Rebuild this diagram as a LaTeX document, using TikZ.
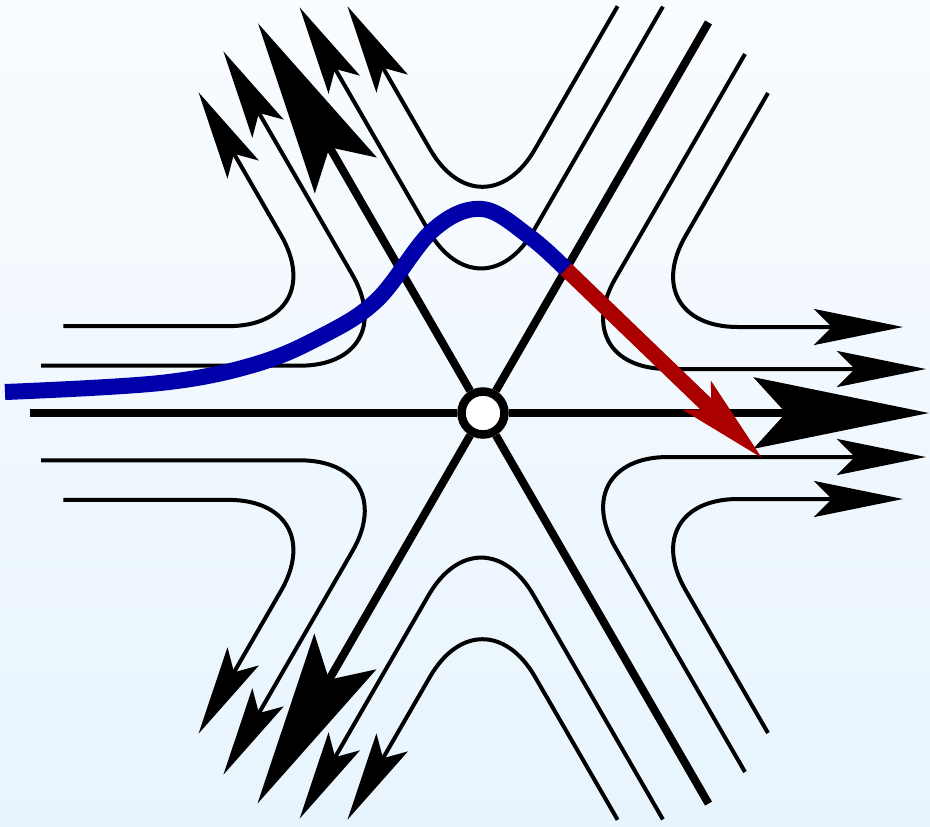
\documentclass[tikz,border=0pt]{standalone}
\usepackage{tikz}
\usetikzlibrary{arrows.meta}

\definecolor{bgtop}{RGB}{249,252,255}
\definecolor{bgbottom}{RGB}{232,244,253}
\definecolor{pathblue}{RGB}{0,0,170}
\definecolor{pathred}{RGB}{170,0,0}

\begin{document}
\begin{tikzpicture}[
    x=0.01cm, y=0.01cm,
    axis/.style={draw, line width=0.08cm},
    outaxis/.style={axis, -{Stealth[length=1.75cm, width=0.71cm, inset=0.32cm]}},
    flow/.style={draw, line width=0.04cm, rounded corners=1.05cm,
                 -{Stealth[length=0.89cm, width=0.36cm, inset=0.18cm]}},
    fixed/.style={circle, draw, fill=white, line width=0.085cm,
                  minimum size=0.43cm, inner sep=0pt},
    orbit/.style={draw, pathblue, line width=0.16cm},
    jump/.style={draw, pathred, line width=0.155cm,
                 -{Stealth[length=0.89cm, width=0.38cm, inset=0.18cm]}}
]
    \useasboundingbox (-483,-413) rectangle (447,413);
    \shade [top color=bgtop, bottom color=bgbottom] (-483,-413) rectangle (447,413);

    \begin{scope}[rotate=0]
        \path [flow] (285,320) -- (150,86) -- (420,86);
        \path [flow] (262,359) -- (80,44) -- (443,44);
        \path [flow] (285,-320) -- (150,-86) -- (420,-86);
        \path [flow] (262,-359) -- (80,-44) -- (443,-44);
    \end{scope}
    \begin{scope}[rotate=120]
        \path [flow] (285,320) -- (150,86) -- (420,86);
        \path [flow] (262,359) -- (80,44) -- (443,44);
        \path [flow] (285,-320) -- (150,-86) -- (420,-86);
        \path [flow] (262,-359) -- (80,-44) -- (443,-44);
    \end{scope}
    \begin{scope}[rotate=240]
        \path [flow] (285,320) -- (150,86) -- (420,86);
        \path [flow] (262,359) -- (80,44) -- (443,44);
        \path [flow] (285,-320) -- (150,-86) -- (420,-86);
        \path [flow] (262,-359) -- (80,-44) -- (443,-44);
    \end{scope}

    \node [fixed] (O) at (0,0) {};
    \coordinate (e0)   at (0:446);
    \coordinate (e60)  at (60:451);
    \coordinate (e120) at (120:450);
    \coordinate (e180) at (180:453);
    \coordinate (e240) at (240:451);
    \coordinate (e300) at (300:451);

    \path [outaxis] (O) -- (e0);
    \path [axis]    (O) -- (e60);
    \path [outaxis] (O) -- (e120);
    \path [axis]    (O) -- (e180);
    \path [outaxis] (O) -- (e240);
    \path [axis]    (O) -- (e300);

    \coordinate (kink) at (60:166);
    \coordinate (land) at (280,-46);
    \path [orbit] plot [smooth, tension=0.6] coordinates {(-478,21) (-323,30) (-230,48)
        (-163,76) (-106,113) (-50,183) (-1,204) (47,176) (kink)};
    \path [jump] (kink) -- (land);
\end{tikzpicture}
\end{document}
